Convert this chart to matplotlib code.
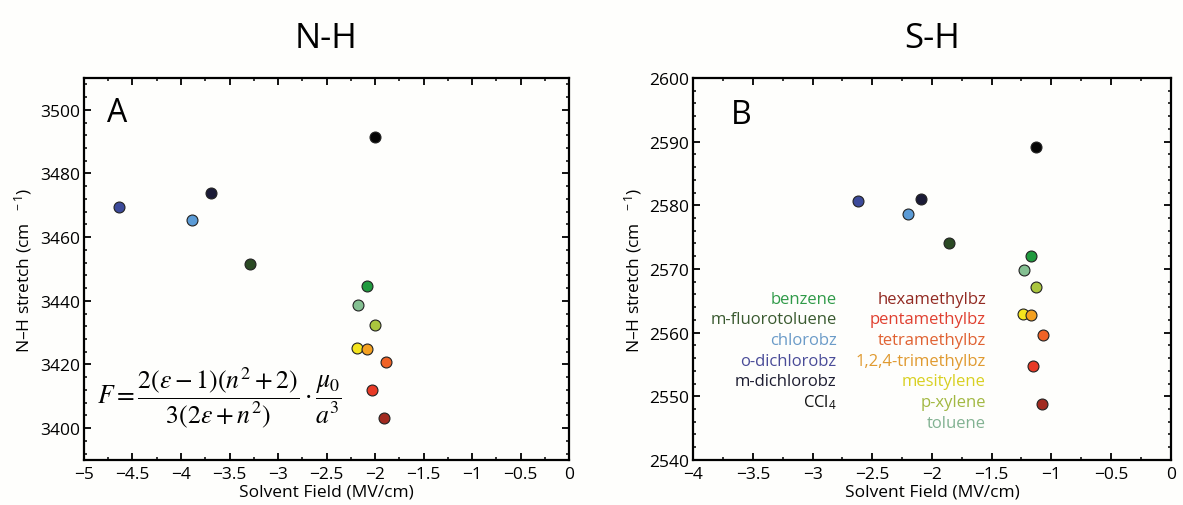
import matplotlib
matplotlib.use("Agg")
import matplotlib.pyplot as plt
from matplotlib.ticker import MultipleLocator, FuncFormatter

plt.rcParams['font.family'] = ['Open Sans', 'DejaVu Sans']
plt.rcParams['mathtext.fontset'] = 'custom'
plt.rcParams['mathtext.rm'] = 'Open Sans'
plt.rcParams['mathtext.it'] = 'Open Sans:italic'
plt.rcParams['mathtext.bf'] = 'Open Sans:bold'

# solvents, same order in both panels
solvents = ['benzene', 'm-fluorotoluene', 'chlorobz', 'o-dichlorobz', 'm-dichlorobz', 'CCl$_4$',
            'hexamethylbz', 'pentamethylbz', 'tetramethylbz', '1,2,4-trimethylbz', 'mesitylene',
            'p-xylene', 'toluene']
colors = ['#1f9a3e', '#2b4a24', '#5b9bd6', '#3c4a9a', '#1a1a36', '#050505',
          '#a22a20', '#e83a26', '#f06226', '#f4a020', '#f4e41e', '#aac63e', '#84c092']
text_colors = ['#2f9a48', '#3a5a30', '#6b9bc8', '#4a4c98', '#1c1c30', '#111111',
               '#922a22', '#e04030', '#e06232', '#e09a30', '#d8d022', '#a2b842', '#82b292']

# N-H probe
nh_field = [-2.08, -3.29, -3.89, -4.64, -3.69, -2.00, -1.91, -2.03, -1.89, -2.08, -2.19, -2.00, -2.18]
nh_freq = [3444.8, 3451.6, 3465.3, 3469.6, 3473.9, 3491.5, 3403.3, 3412.1, 3420.7, 3424.9, 3425.2, 3432.4, 3438.6]

# S-H probe
sh_field = [-1.17, -1.86, -2.20, -2.62, -2.09, -1.13, -1.08, -1.15, -1.07, -1.17, -1.24, -1.13, -1.23]
sh_freq = [2572.1, 2574.0, 2578.7, 2580.6, 2581.0, 2589.1, 2548.8, 2554.7, 2559.6, 2562.7, 2563.0, 2567.2, 2569.9]

# draw order so the overlapping pairs stack the same way
order = [5, 4, 3, 2, 1, 0, 12, 11, 10, 9, 8, 7, 6]


def fmt(v, pos):
    s = ('%g' % v)
    return s.replace('-', '\u2212')


def style(ax, xlim, ylim, ymaj, ymin):
    ax.set_xlim(*xlim)
    ax.set_ylim(*ylim)
    ax.xaxis.set_major_locator(MultipleLocator(0.5))
    ax.xaxis.set_minor_locator(MultipleLocator(0.25))
    ax.yaxis.set_major_locator(MultipleLocator(ymaj))
    ax.yaxis.set_minor_locator(MultipleLocator(ymin))
    ax.xaxis.set_major_formatter(FuncFormatter(fmt))
    ax.tick_params(which='both', direction='in', top=True, right=True, labelsize=12.5)
    ax.tick_params(axis='x', pad=4.5)
    ax.tick_params(axis='y', pad=3)
    ax.tick_params(which='major', length=5, width=1.3)
    ax.tick_params(which='minor', length=2.5, width=1.1)
    for sp in ax.spines.values():
        sp.set_linewidth(1.6)
    ax.set_xlabel('Solvent Field (MV/cm)', fontsize=12.5, labelpad=0.8)
    ax.set_ylabel('N\u2013H stretch (cm$^{\\ \\ \\ \u22121}$)', fontsize=12.5, labelpad=4)


def scatter(ax, xs, ys):
    for i in order:
        ax.scatter(xs[i], ys[i], s=62, color=colors[i], edgecolor='#222222', linewidth=0.8, zorder=3)


fig = plt.figure(figsize=(11.83, 5.06), dpi=100, facecolor='#fefefc')

ax1 = fig.add_axes([0.071, 0.089, 0.410, 0.755])
ax1.set_facecolor('#fefefc')
scatter(ax1, nh_field, nh_freq)
style(ax1, (-5, 0), (3390, 3510), 20, 4)
ax1.set_title('N-H', fontsize=25, pad=22)
ax1.text(0.047, 0.91, 'A', transform=ax1.transAxes, fontsize=23, va='center', ha='left')
ax1.text(0.026, 0.165,
         r'$F=\dfrac{2(\varepsilon-1)(n^2+2)}{3(2\varepsilon+n^2)}\cdot\dfrac{\mu_0}{a^3}$',
         transform=ax1.transAxes, fontsize=18.5, va='center', ha='left', math_fontfamily='stix')

ax2 = fig.add_axes([0.586, 0.089, 0.4036, 0.755])
ax2.set_facecolor('#fefefc')
scatter(ax2, sh_field, sh_freq)
style(ax2, (-4, 0), (2540, 2600), 10, 2)
ax2.set_title('S-H', fontsize=25, pad=22)
ax2.text(0.078, 0.905, 'B', transform=ax2.transAxes, fontsize=23, va='center', ha='left')

# solvent key, two right-aligned columns
for k in range(13):
    col = 0 if k < 6 else 1
    row = k if k < 6 else k - 6
    xa = 0.300 if col == 0 else 0.613
    ya = 0.4225 - 0.0541 * row
    ax2.text(xa, ya, solvents[k], transform=ax2.transAxes, fontsize=12,
             color=text_colors[k], ha='right', va='center')

fig.savefig('out.png', dpi=100, facecolor=fig.get_facecolor())
